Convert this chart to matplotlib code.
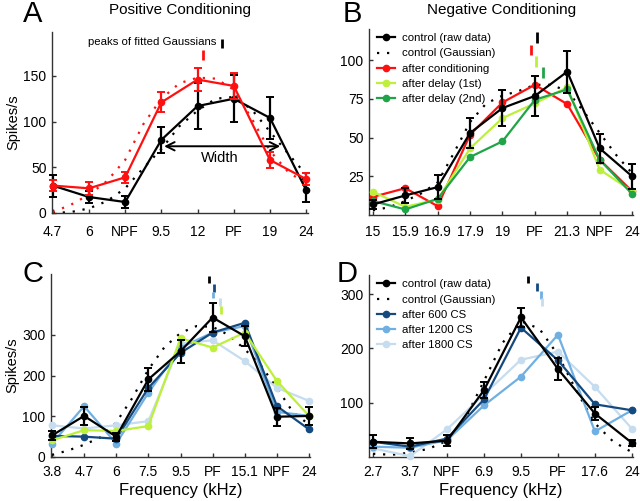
import numpy as np
import matplotlib
matplotlib.use("Agg")
import matplotlib.pyplot as plt

plt.rcParams["font.family"] = ["Liberation Sans", "DejaVu Sans"]

RED = "#ff1010"
LGREEN = "#bdf03a"
DGREEN = "#20a448"
DBLUE = "#154a80"
MBLUE = "#6fafe2"
LBLUE = "#c6dcef"

# ── Panel A: positive conditioning ───────────────────────
a_ticks = ["4.7", "6", "NPF", "9.5", "12", "PF", "19", "24"]
a_ctrl = [30, 17.5, 12, 80, 117, 125, 104, 25]
a_ctrl_err = [12, 7, 7, 14, 25, 26, 23, 12.5]
a_cond = [30, 27, 39, 121, 146, 139, 58, 37]
a_cond_err = [6, 7, 6, 11, 12.5, 14, 9, 6.5]
a_fit_x = [0, 0.5, 1, 1.5, 2, 2.5, 3, 3.5, 4, 4.5, 5, 5.5, 6, 6.5, 7]
a_ctrl_fit = [0, 1, 5, 13, 27, 49, 70, 95, 112, 125, 127, 113, 89, 65, 42]
a_cond_fit = [1, 9, 20, 35, 58, 97, 125, 142, 148, 147, 135, 103, 68, 45, 32]
a_peak_x = [4.67, 4.15]
a_peak_lo = [180, 167]
a_peak_hi = [190, 178]

# ── Panel B: negative conditioning ───────────────────────
b_ticks = ["15", "15.9", "16.9", "17.9", "19", "PF", "21.3", "NPF", "24"]
b_ctrl = [6.8, 12.6, 18, 52.9, 69, 76.8, 92.5, 43, 25]
b_ctrl_err = [3, 5, 7.5, 9.5, 11.5, 13, 13.5, 9.5, 8]
b_cond = [11.7, 17.3, 5.7, 51.8, 72.6, 84, 71.5, 35.7, 15.4]
b_delay1 = [15, 5.3, 10, 43, 62.5, 72, 82.4, 29.3, 15.4]
b_delay2 = [9, 3.6, 10.4, 37.4, 47.5, 74.3, 81, 35.7, 13.6]
b_fit_x = [0, 0.5, 1, 1.5, 2, 2.5, 3, 3.5, 4, 4.5, 5, 5.5, 6, 6.5, 7, 7.5, 8]
b_ctrl_fit = [3, 5, 9, 14, 21, 40, 60, 72, 77, 80, 84, 84, 80, 67, 53, 39, 27]
b_peak_x = [5.08, 4.87, 5.03, 5.24]
b_peak_lo = [110.7, 103, 95.7, 88.2]
b_peak_hi = [118, 109.6, 102.6, 95.7]

# ── Panel C ──────────────────────────────────────────────
c_ticks = ["3.8", "4.7", "6", "7.5", "9.5", "PF", "15.1", "NPF", "24"]
c_ctrl = [53, 101, 50, 191, 260, 343, 297, 99, 101]
c_ctrl_err = [12, 22, 10, 28, 28, 35, 25, 22, 22]
c_600 = [52, 50, 45, 170, 256, 306, 330, 125, 68]
c_1200 = [33, 125, 33, 158, 269, 306, 322, 111, 101]
c_1800 = [78, 70, 78, 88, 279, 287, 236, 170, 138]
c_other = [41, 66, 64, 76, 292, 269, 306, 187, 101]
c_fit_x = [0, 0.5, 1, 1.5, 2, 2.5, 3, 3.5, 4, 4.5, 5, 5.5, 6, 6.5, 7, 7.5, 8]
c_ctrl_fit = [5, 16, 30, 48, 85, 145, 215, 270, 305, 322, 320, 300, 265, 225, 170, 110, 80]
c_peak_x = [4.89, 5.05, 5.02, 5.23, 5.27]
c_peak_lo = [428, 405, 391, 371, 351]
c_peak_hi = [445, 425, 405, 391, 371]

# ── Panel D ──────────────────────────────────────────────
d_ticks = ["2.7", "3.7", "NPF", "6.9", "9.5", "PF", "17.6", "24"]
d_ctrl = [28, 25, 30, 123, 257, 162, 80, 26]
d_ctrl_err = [12, 10, 10, 15, 18, 20, 12, 6]
d_600 = [28, 19, 34, 106, 238, 178, 97, 86]
d_1200 = [19, 17, 31, 95, 148, 225, 47, 86]
d_1800 = [16, 1.5, 51, 115, 179, 194, 129, 52]
d_fit_x = [0, 0.5, 1, 1.5, 2, 2.5, 3, 3.5, 4, 4.5, 5, 5.5, 6, 6.5, 7]
d_ctrl_fit = [6, 4, 8, 15, 30, 72, 140, 210, 250, 236, 188, 122, 62, 28, 9]
d_peak_x = [4.19, 4.44, 4.55, 4.58]
d_peak_lo = [321, 306, 291, 278]
d_peak_hi = [333, 320, 306, 292]

W, H = 640, 501
fig = plt.figure(figsize=(6.4, 5.01), dpi=100)


def make_axes(l, r, t, b):
    ax = fig.add_axes([l / W, 1 - b / H, (r - l) / W, (b - t) / H])
    for s in ["top", "right"]:
        ax.spines[s].set_visible(False)
    for s in ["left", "bottom"]:
        ax.spines[s].set_linewidth(1.0)
        ax.spines[s].set_color("#333333")
    ax.tick_params(direction="in", length=3, width=1, labelsize=10, color="#333333")
    ax.tick_params(axis="x", pad=6)
    ax.tick_params(axis="y", pad=4)
    return ax


def series(ax, y, color, err=None, lw=1.6, ms=4.5, label=None, z=3):
    x = np.arange(len(y))
    ax.plot(x, y, "-o", color=color, lw=lw, ms=ms, label=label, zorder=z, clip_on=False)
    if err is not None:
        ax.errorbar(x, y, yerr=err, fmt="none", ecolor=color, elinewidth=1.6,
                    capsize=3, capthick=1.4, zorder=z, clip_on=False)


def fit_line(ax, x, y, color="black", label=None):
    ax.plot(x, y, color=color, lw=1.6, ls=(0, (1, 3.5)), label=label, zorder=2)


def peaks(ax, xs, lo, hi, colors):
    for x, a, b, c in zip(xs, lo, hi, colors):
        ax.plot([x, x], [a, b], color=c, lw=2, solid_capstyle="butt", clip_on=False)


def legend(ax, order):
    h, l = ax.get_legend_handles_labels()
    ax.legend([h[i] for i in order], [l[i] for i in order], loc="upper left",
              bbox_to_anchor=(0.0, 1.02), frameon=False, fontsize=8.2, handlelength=1.6,
              handletextpad=0.6, labelspacing=0.46, borderaxespad=0.3)


# A
ax = make_axes(52, 308, 32, 213)
fit_line(ax, a_fit_x, a_ctrl_fit)
fit_line(ax, a_fit_x, a_cond_fit, color=RED)
series(ax, a_ctrl, "black", a_ctrl_err)
series(ax, a_cond, RED, a_cond_err, z=4)
peaks(ax, a_peak_x, a_peak_lo, a_peak_hi, ["black", RED])
ax.text(0.98, 187, "peaks of fitted Gaussians", fontsize=8.2, ha="left", va="center")
ax.annotate("", xy=(3.0, 73), xytext=(6.36, 73),
            arrowprops=dict(arrowstyle="<->,head_length=0.6,head_width=0.3", lw=1.4, color="black"))
ax.text(4.6, 60, "Width", fontsize=10.5, ha="center", va="center")
ax.set_xlim(-0.02, 7.05)
ax.set_ylim(0, 198)
ax.set_xticks(range(len(a_ticks)))
ax.set_xticklabels(a_ticks)
ax.set_yticks([0, 50, 100, 150])
ax.tick_params(axis="x", pad=9)
ax.set_ylabel("Spikes/s", fontsize=10.5, labelpad=2)

# B
ax = make_axes(369, 633, 29, 215)
fit_line(ax, b_fit_x, b_ctrl_fit, label="control (Gaussian)")
series(ax, b_ctrl, "black", b_ctrl_err, label="control (raw data)", z=5)
series(ax, b_cond, RED, label="after conditioning")
series(ax, b_delay1, LGREEN, label="after delay (1st)")
series(ax, b_delay2, DGREEN, label="after delay (2nd)")
peaks(ax, b_peak_x, b_peak_lo, b_peak_hi, ["black", RED, LGREEN, DGREEN])
ax.set_xlim(-0.12, 8.03)
ax.set_ylim(0, 120)
ax.set_xticks(range(len(b_ticks)))
ax.set_xticklabels(b_ticks)
ax.set_yticks([25, 50, 75, 100])
ax.tick_params(axis="x", pad=7)
legend(ax, [1, 0, 2, 3, 4])

# C
ax = make_axes(51, 310, 274, 457)
fit_line(ax, c_fit_x, c_ctrl_fit)
series(ax, c_1800, LBLUE)
series(ax, c_1200, MBLUE)
series(ax, c_600, DBLUE)
series(ax, c_other, LGREEN)
series(ax, c_ctrl, "black", c_ctrl_err, z=5)
peaks(ax, c_peak_x, c_peak_lo, c_peak_hi, ["black", DBLUE, MBLUE, LBLUE, LGREEN])
ax.set_xlim(-0.03, 8.03)
ax.set_ylim(0, 450)
ax.set_xticks(range(len(c_ticks)))
ax.set_xticklabels(c_ticks)
ax.set_yticks([0, 100, 200, 300])
ax.set_ylabel("Spikes/s", fontsize=10.5, labelpad=2)
ax.set_xlabel("Frequency (kHz)", fontsize=12, labelpad=3)

# D
ax = make_axes(369, 633, 275, 457)
fit_line(ax, d_fit_x, d_ctrl_fit, label="control (Gaussian)")
series(ax, d_1800, LBLUE, label="after 1800 CS")
series(ax, d_1200, MBLUE, label="after 1200 CS")
series(ax, d_600, DBLUE, label="after 600 CS")
series(ax, d_ctrl, "black", d_ctrl_err, label="control (raw data)", z=5)
peaks(ax, d_peak_x, d_peak_lo, d_peak_hi, ["black", DBLUE, MBLUE, LBLUE])
ax.set_xlim(-0.11, 7.03)
ax.set_ylim(0, 335)
ax.set_xticks(range(len(d_ticks)))
ax.set_xticklabels(d_ticks)
ax.set_yticks([100, 200, 300])
ax.set_xlabel("Frequency (kHz)", fontsize=12, labelpad=3)
legend(ax, [4, 0, 3, 2, 1])

# panel letters and titles
for txt, x, y in [("A", 33, 22), ("B", 352, 22), ("C", 33, 282), ("D", 347, 282)]:
    fig.text(x / W, 1 - y / H, txt, fontsize=21, ha="center", va="baseline")
fig.text(180 / W, 1 - 10 / H, "Positive Conditioning", fontsize=11, ha="center", va="center")
fig.text(502 / W, 1 - 10 / H, "Negative Conditioning", fontsize=11, ha="center", va="center")

fig.savefig("out.png", dpi=100)
